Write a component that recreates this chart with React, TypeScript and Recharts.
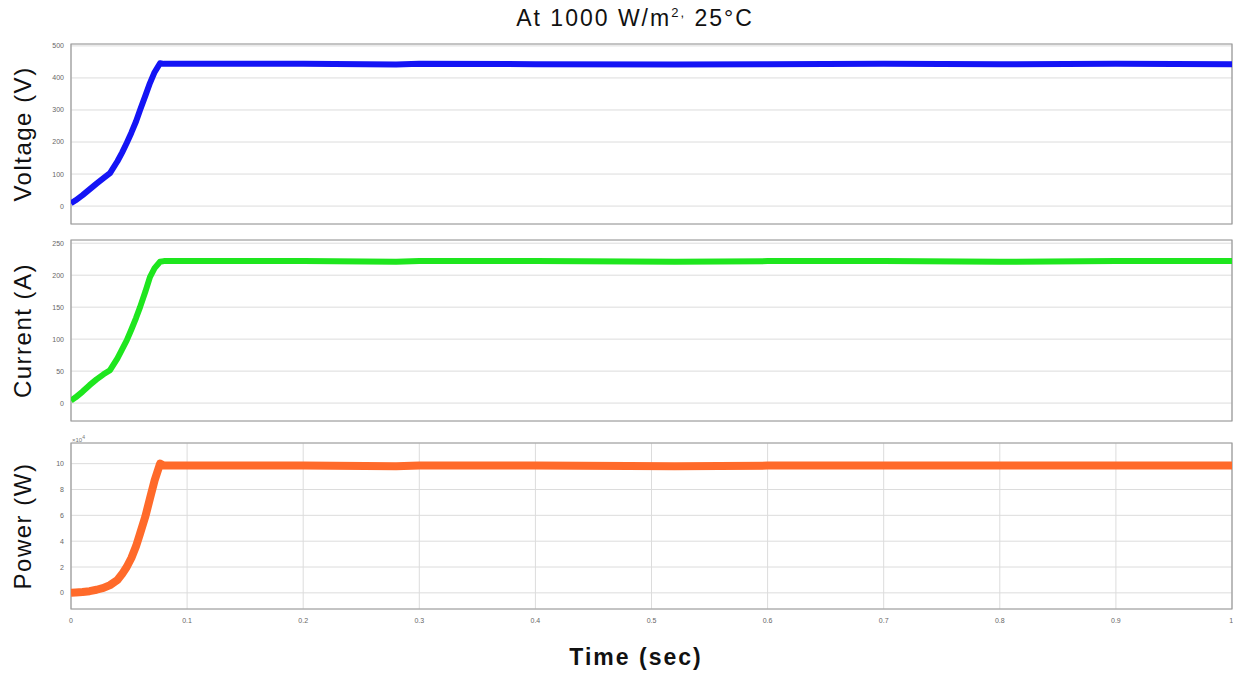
import React from 'react';
import { LineChart, Line, XAxis, YAxis, CartesianGrid, ReferenceArea } from 'recharts';

const W = 1233;
const H = 673;

// simulation time (sec)
const time = [0, 0.004, 0.01, 0.016, 0.022, 0.028, 0.0336, 0.04, 0.044, 0.048, 0.052, 0.056, 0.0595, 0.064, 0.068, 0.072, 0.0767, 0.08, 0.1, 0.2, 0.28, 0.3, 0.4, 0.52, 0.6, 0.7, 0.8, 0.9, 1.0];
const voltage = [9, 18, 34, 52, 70, 87, 103, 140, 167, 197, 229, 264, 300, 344, 384, 418, 446, 444, 444, 444, 442, 444, 443, 442, 443, 444, 443, 444, 443];
const current = [4, 9, 18, 28, 37, 45, 51.5, 70, 84, 98, 115, 133, 150, 174, 197, 211, 221, 222, 222, 222, 221, 222, 222, 221, 222, 222, 221, 222, 222];
// power in units of 1e4 W
const power = [0, 0.02, 0.06, 0.13, 0.24, 0.38, 0.6, 1.0, 1.45, 2.0, 2.7, 3.6, 4.6, 5.9, 7.3, 8.7, 10.0, 9.85, 9.85, 9.85, 9.8, 9.85, 9.85, 9.8, 9.85, 9.85, 9.85, 9.85, 9.85];

const xTicks = [0, 0.1, 0.2, 0.3, 0.4, 0.5, 0.6, 0.7, 0.8, 0.9, 1];
const vTicks = [0, 100, 200, 300, 400, 500];
const iTicks = [0, 50, 100, 150, 200, 250];
const pTicks = [0, 2, 4, 6, 8, 10];

const rows = time.map((t, i) => ({ t, v: voltage[i], c: current[i], p: power[i] }));

const FONT = '"Liberation Sans", Arial, sans-serif';
const tickStyle = { fill: '#666', fontSize: 7, fontFamily: FONT };

interface PanelProps {
  dataKey: string;
  color: string;
  width: number;
  ticks: number[];
  domain: [number, number];
  top: number;
  bottom: number;
  label: string;
  showX?: boolean;
}

const Panel = ({ dataKey, color, width, ticks, domain, top, bottom, label, showX }: PanelProps) => {
  const axisLabel = (props: any) => {
    const vb = props.viewBox;
    const cy = vb.y + vb.height / 2;
    return (
      <text x={31} y={cy} transform={`rotate(-90, 31, ${cy})`} textAnchor="middle"
        fontSize={24} letterSpacing={1.5} fontFamily={FONT} fill="#111">{label}</text>
    );
  };
  return (
    <div style={{ position: 'absolute', left: 0, top: 0 }}>
      <LineChart width={W} height={H} data={rows}
        margin={{ top, right: 1, left: 0, bottom: showX ? bottom - 30 : bottom }}>
        <CartesianGrid stroke="#dcdcdc" strokeWidth={1} />
        <XAxis dataKey="t" type="number" domain={[0, 1]} ticks={xTicks} allowDataOverflow
          tick={showX ? tickStyle : false} tickLine={false} axisLine={false}
          height={showX ? 30 : 0} tickSize={0} tickMargin={9} />
        <YAxis type="number" domain={domain} ticks={ticks} allowDataOverflow width={71}
          tick={tickStyle} tickLine={false} axisLine={false} tickSize={0} tickMargin={7}
          label={axisLabel} />
        <ReferenceArea x1={0} x2={1} y1={domain[0]} y2={domain[1]} fill="none" fillOpacity={0}
          stroke="#9a9a9a" strokeWidth={1.2} ifOverflow="visible" />
        <Line type="linear" dataKey={dataKey} stroke={color} strokeWidth={width}
          strokeLinejoin="round" dot={false} isAnimationActive={false} />
      </LineChart>
    </div>
  );
};

export default function App() {
  return (
    <div style={{ position: 'absolute', left: 0, top: 0, width: W, height: H, background: '#fff', fontFamily: FONT }}>
      <Panel dataKey="v" color="#1414f5" width={6} ticks={vTicks} domain={[-56, 506]}
        top={44} bottom={H - 224} label="Voltage (V)" />
      <Panel dataKey="c" color="#1ee61e" width={6} ticks={iTicks} domain={[-28, 255]}
        top={240} bottom={H - 421} label="Current (A)" />
      <Panel dataKey="p" color="#ff6a2a" width={8} ticks={pTicks} domain={[-1.25, 11.6]}
        top={443} bottom={H - 609} label="Power (W)" showX />
      <div style={{ position: 'absolute', left: 72, top: 434, fontSize: 6, color: '#777' }}>
        ×10<sup style={{ fontSize: 5 }}>4</sup>
      </div>
      <div style={{ position: 'absolute', left: 0, width: 1270, top: 5, textAlign: 'center', fontSize: 23, letterSpacing: 2, color: '#111' }}>
        At 1000 W/m<sup style={{ fontSize: 13 }}>2,</sup> 25°C
      </div>
      <div style={{ position: 'absolute', left: 0, width: 1272, top: 644, textAlign: 'center', fontSize: 23, letterSpacing: 2, color: '#111', fontWeight: 'bold' }}>
        Time (sec)
      </div>
    </div>
  );
}
